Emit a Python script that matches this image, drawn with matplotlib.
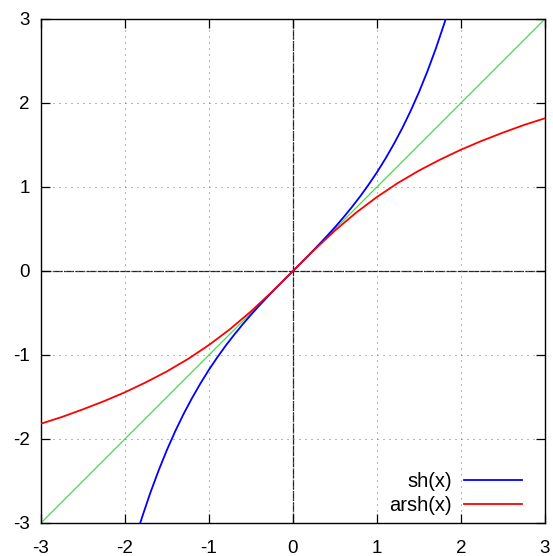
import numpy as np
import matplotlib.pyplot as plt
import matplotlib.transforms as mtransforms

plt.rcParams['font.family'] = ['Liberation Sans', 'DejaVu Sans']

# sh(x) samples
sh_x = [-1.9, -1.8, -1.7, -1.6, -1.5, -1.4, -1.3, -1.2, -1.1, -1.0,
        -0.9, -0.8, -0.7, -0.6, -0.5, -0.4, -0.3, -0.2, -0.1, 0.0,
        0.1, 0.2, 0.3, 0.4, 0.5, 0.6, 0.7, 0.8, 0.9, 1.0,
        1.1, 1.2, 1.3, 1.4, 1.5, 1.6, 1.7, 1.8, 1.9]
sh_y = [-3.268, -2.942, -2.646, -2.376, -2.129, -1.904, -1.698, -1.510, -1.336, -1.175,
        -1.027, -0.888, -0.759, -0.637, -0.521, -0.411, -0.305, -0.201, -0.100, 0.0,
        0.100, 0.201, 0.305, 0.411, 0.521, 0.637, 0.759, 0.888, 1.027, 1.175,
        1.336, 1.510, 1.698, 1.904, 2.129, 2.376, 2.646, 2.942, 3.268]

# arsh(x) samples
arsh_x = [-3.0, -2.75, -2.5, -2.25, -2.0, -1.75, -1.5, -1.25, -1.0, -0.75, -0.5, -0.25, 0.0,
          0.25, 0.5, 0.75, 1.0, 1.25, 1.5, 1.75, 2.0, 2.25, 2.5, 2.75, 3.0]
arsh_y = [-1.818, -1.738, -1.647, -1.550, -1.444, -1.325, -1.195, -1.048, -0.881, -0.693, -0.481, -0.248, 0.0,
          0.248, 0.481, 0.693, 0.881, 1.048, 1.195, 1.325, 1.444, 1.550, 1.647, 1.738, 1.818]

diag_x = [-3, 3]
diag_y = [-3, 3]

ticks = [-3, -2, -1, 0, 1, 2, 3]
labels = ['sh(x)', 'arsh(x)']

fig = plt.figure(figsize=(5.53, 5.56), dpi=100)
ax = fig.add_axes([0.0741, 0.0594, 0.9114, 0.9065])

ax.plot(diag_x, diag_y, color='#40e040', lw=0.9, zorder=2)
l1, = ax.plot(sh_x, sh_y, color='#0000ff', lw=1.3, zorder=3)
l2, = ax.plot(arsh_x, arsh_y, color='#ff0000', lw=1.3, zorder=3)

ax.axhline(0, color='#222222', lw=0.9, ls=(0, (8, 1)), zorder=1)
ax.axvline(0, color='#222222', lw=0.9, ls=(0, (8, 1)), zorder=1)

ax.set_xlim(-3, 3)
ax.set_ylim(-3, 3)
ax.set_xticks(ticks)
ax.set_yticks(ticks)
ax.set_xticklabels([str(t) for t in ticks])
ax.set_yticklabels([str(t) for t in ticks])
ax.grid(True, color='#707070', ls=(0, (1, 5)), lw=0.72)
ax.tick_params(direction='in', top=True, right=True, length=6.5, width=0.9, labelsize=13.5)
ax.tick_params(axis='x', pad=12)
ax.tick_params(axis='y', pad=8)
for s in ax.spines.values():
    s.set_linewidth(1.0)

# legend: only the line samples, labels right-aligned to the left of them (gnuplot style)
leg = ax.legend([l1, l2], ['', ''], loc='lower right', bbox_to_anchor=(0.9544, 0.015),
                frameon=False, fontsize=14.5, handlelength=2.9, labelspacing=0.25,
                borderaxespad=0, borderpad=0, handletextpad=0)
fig.canvas.draw()
renderer = fig.canvas.get_renderer()
for line, lab in zip(leg.get_lines(), labels):
    bb = line.get_window_extent(renderer)
    fig.text(bb.x0 - 12, (bb.y0 + bb.y1) / 2 - 1, lab, ha='right', va='center',
             fontsize=14.5, transform=mtransforms.IdentityTransform())

fig.savefig('out.png', dpi=100)
